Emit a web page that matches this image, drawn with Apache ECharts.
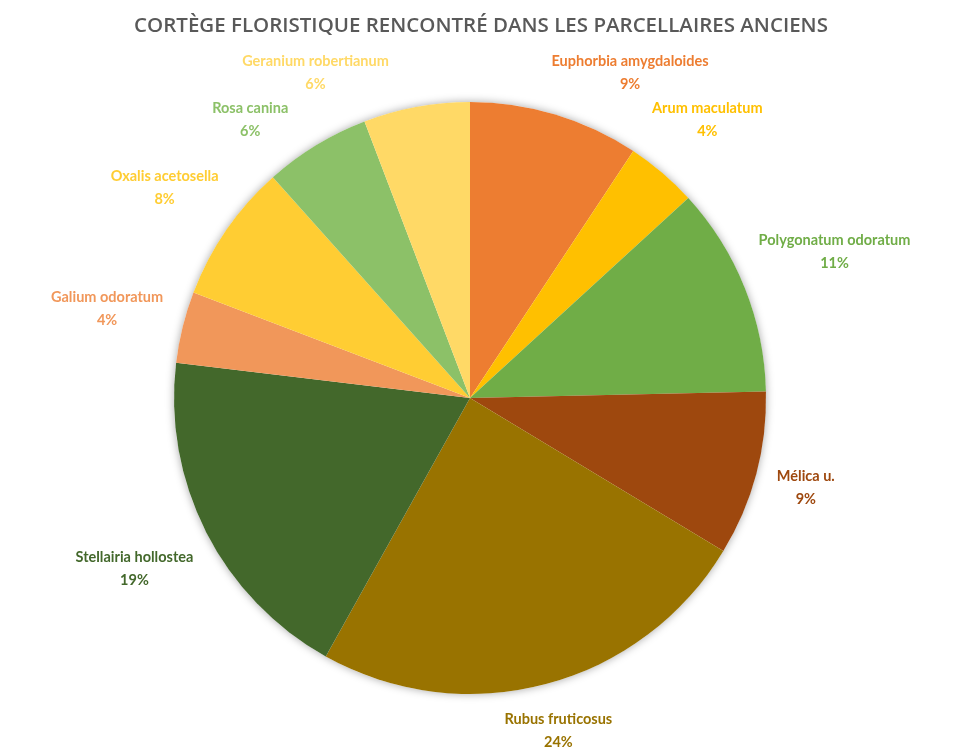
<!DOCTYPE html>
<html>
<head>
<meta charset="utf-8">
<script src="https://cdn.jsdelivr.net/npm/echarts@6/dist/echarts.min.js"></script>
<style>
  html, body { margin: 0; padding: 0; background: #fff; }
  #chart { width: 962px; height: 748px; }
</style>
</head>
<body>
<div id="chart"></div>
<script>
// slices, clockwise from 12 o'clock
const names = [
  'Euphorbia amygdaloides', 'Arum maculatum', 'Polygonatum odoratum', 'Mélica u.',
  'Rubus fruticosus', 'Stellairia hollostea', 'Galium odoratum', 'Oxalis acetosella',
  'Rosa canina', 'Geranium robertianum'
];
const values = [9.3, 3.9, 11.45, 9.0, 24.45, 18.8, 3.9, 7.6, 5.8, 5.8];
const colors = [
  '#ED7D31', '#FFC000', '#70AD47', '#9E480E',
  '#997300', '#43682B', '#F1975A', '#FFCD33',
  '#8CC168', '#FFD966'
];

const CX = 470, CY = 398, R = 296;
const GAP = 16;
const FONT_SIZE = 14.5;
const FONT = 'bold ' + FONT_SIZE + 'px Lato';
const LINE_H = 23;
const MIN_TOP = 50; // keep labels under the title

// label positions: outside the circle, centred on the slice mid-angle,
// then pushed apart along the circle where neighbours overlap
const measure = document.createElement('canvas').getContext('2d');
measure.font = FONT;
const total = values.reduce((a, b) => a + b, 0);
const ang = [];
const half = [];
let acc = 0;
values.forEach((v, i) => {
  ang.push((acc + v / 2) / total * 360);
  acc += v;
  half.push([measure.measureText(names[i]).width / 2 + 2, LINE_H]);
});

function place(i) {
  const t = ang[i] * Math.PI / 180;
  const s = Math.sin(t), c = -Math.cos(t);
  const [a, b] = half[i];
  let lo = 0, hi = R + 300;
  for (let k = 0; k < 40; k++) {
    const d = (lo + hi) / 2;
    const ex = Math.max(Math.abs(d * s) - a, 0);
    const ey = Math.max(Math.abs(d * c) - b, 0);
    if (Math.hypot(ex, ey) < R + GAP) lo = d; else hi = d;
  }
  return [CX + hi * s, CY + hi * c];
}
function overlaps(i, j) {
  const p = place(i), q = place(j);
  return Math.abs(p[0] - q[0]) < half[i][0] + half[j][0] + 6 &&
         Math.abs(p[1] - q[1]) < half[i][1] + half[j][1];
}
for (let it = 0; it < 600; it++) {
  let moved = false;
  for (let i = 0; i < ang.length; i++) {
    const j = (i + 1) % ang.length;
    if (overlaps(i, j)) { ang[i] -= 0.5; ang[j] += 0.5; moved = true; }
    if (place(i)[1] - half[i][1] < MIN_TOP) {
      const a = ((ang[i] % 360) + 360) % 360;
      ang[i] += a < 180 ? 0.5 : -0.5;
      moved = true;
    }
  }
  if (!moved) break;
}

const chart = echarts.init(document.getElementById('chart'));
chart.setOption({
  backgroundColor: '#fff',
  animation: false,
  title: {
    text: 'CORTÈGE FLORISTIQUE RENCONTRÉ DANS LES PARCELLAIRES ANCIENS',
    left: 'center',
    top: 11,
    textStyle: { fontFamily: 'Open Sans', fontSize: 20.5, fontWeight: 600, color: '#595959' }
  },
  series: [
    {
      // soft shadow under the pie
      type: 'pie',
      silent: true,
      z: 1,
      center: [CX, CY],
      radius: R,
      label: { show: false },
      labelLine: { show: false },
      itemStyle: { color: '#fff', shadowBlur: 8, shadowColor: 'rgba(0,0,0,0.35)' },
      data: [1]
    },
    {
      type: 'pie',
      z: 2,
      center: [CX, CY],
      radius: R,
      startAngle: 90,
      clockwise: true,
      itemStyle: { borderWidth: 0 },
      label: {
        position: 'outside',
        fontFamily: 'Lato',
        fontSize: FONT_SIZE,
        fontWeight: 'bold',
        lineHeight: LINE_H,
        color: 'inherit',
        formatter: p => p.name + '\n' + Math.round(p.percent) + '%'
      },
      labelLine: { show: false },
      labelLayout: p => {
        const [x, y] = place(p.dataIndex);
        return { x, y, align: 'center', verticalAlign: 'middle' };
      },
      emphasis: { disabled: true },
      data: names.map((n, i) => ({ name: n, value: values[i], itemStyle: { color: colors[i] } }))
    }
  ]
});
</script>
</body>
</html>
